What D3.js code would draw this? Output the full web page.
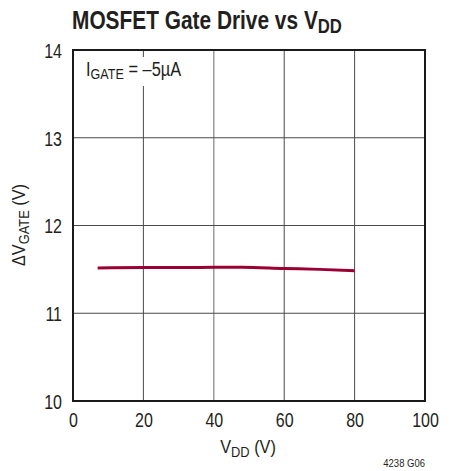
<!DOCTYPE html>
<html>
<head>
<meta charset="utf-8">
<script src="https://cdn.jsdelivr.net/npm/d3@7"></script>
<style>
  html, body { margin: 0; padding: 0; background: #fff; }
  svg text { font-family: "Liberation Sans", Arial, sans-serif; fill: #231f20; }
</style>
</head>
<body>
<svg id="chart" width="456" height="471"></svg>
<script>
// ---- data ----
const vdd = [7, 20, 30, 40, 48, 60, 70, 80];
const deltaVgate = [11.515, 11.52, 11.52, 11.523, 11.525, 11.51, 11.5, 11.485];
const xTicks = [0, 20, 40, 60, 80, 100];
const yTicks = [10, 11, 12, 13, 14];

(function () {
const svg = d3.select("#chart");
const pL = 73, pR = 425, pT = 50, pB = 401;
const x = d3.scaleLinear().domain([0, 100]).range([pL, pR]);
const y = d3.scaleLinear().domain([10, 14]).range([pB, pT]);
const TS = 0.8; // horizontal condensing for tick labels

// grid
const g = svg.append("g");
g.selectAll("line.vg").data(xTicks.slice(1, -1)).enter().append("line")
  .attr("x1", d => x(d)).attr("x2", d => x(d)).attr("y1", pT).attr("y2", pB)
  .attr("stroke", d => d === 40 ? "#8c8c8c" : "#4a4a4a").attr("stroke-width", d => d === 40 ? 1.3 : 1);
g.selectAll("line.hg").data(yTicks.slice(1, -1)).enter().append("line")
  .attr("x1", pL).attr("x2", pR).attr("y1", d => y(d)).attr("y2", d => y(d))
  .attr("stroke", "#4a4a4a").attr("stroke-width", 1);

// annotation box background (hides grid)
svg.append("rect").attr("x", 78).attr("y", 57).attr("width", 108).attr("height", 29).attr("fill", "#fff");
const ann = svg.append("text").attr("transform", "translate(86,76) scale(0.84,1)").attr("font-size", 19.5);
ann.append("tspan").text("I");
ann.append("tspan").attr("dy", 2.5).attr("font-size", 15).text("GATE");
ann.append("tspan").attr("dy", -2.5).text(" = \u20135\u00b5A");

// frame
svg.append("rect").attr("x", pL).attr("y", pT).attr("width", pR - pL).attr("height", pB - pT)
  .attr("fill", "none").attr("stroke", "#1a1a1a").attr("stroke-width", 2);

// axes (labels only)
const xAxis = d3.axisBottom(x).tickValues(xTicks).tickSize(0).tickFormat(d3.format("d"));
const xa = svg.append("g").attr("transform", `translate(0,${pB})`).call(xAxis);
xa.select(".domain").remove();
xa.selectAll("text").attr("font-size", 20).attr("fill", "#231f20").attr("font-family", null)
  .attr("y", 0).attr("dy", 0).attr("transform", `translate(0,25.5) scale(${TS},1)`);

const yAxis = d3.axisLeft(y).tickValues(yTicks).tickSize(0).tickFormat(d3.format("d"));
const ya = svg.append("g").attr("transform", `translate(${pL},0)`).call(yAxis);
ya.select(".domain").remove();
ya.selectAll("text").attr("font-size", 20).attr("fill", "#231f20").attr("font-family", null)
  .attr("x", 0).attr("dy", 0).attr("transform", `translate(-11,7.3) scale(${TS},1)`);

// data line
const line = d3.line().x((d, i) => x(vdd[i])).y(d => y(d)).curve(d3.curveMonotoneX);
svg.append("path").datum(deltaVgate).attr("d", line)
  .attr("fill", "none").attr("stroke", "#9b0033").attr("stroke-width", 3);

// title
const t = svg.append("text").attr("transform", "translate(72,29) scale(0.835,1)").attr("font-size", 25).attr("font-weight", "bold");
t.append("tspan").text("MOSFET Gate Drive vs V");
t.append("tspan").attr("dy", 4).attr("font-size", 20).text("DD");

// x title
const xt = svg.append("text").attr("transform", "translate(248,453) scale(0.92,1)").attr("font-size", 17.7).attr("text-anchor", "middle");
xt.append("tspan").text("V");
xt.append("tspan").attr("dy", 4).attr("font-size", 14).text("DD");
xt.append("tspan").attr("dy", -4).text(" (V)");

// y title
const yt = svg.append("text").attr("transform", "translate(25,225) rotate(-90) scale(0.92,1)").attr("font-size", 17.7).attr("text-anchor", "middle");
yt.append("tspan").text("\u0394V");
yt.append("tspan").attr("dy", 4).attr("font-size", 14).text("GATE");
yt.append("tspan").attr("dy", -4).text(" (V)");

// figure id
svg.append("text").attr("transform", "translate(425,467) scale(0.95,1)").attr("font-size", 10).attr("text-anchor", "end").text("4238 G06");
})();
</script>
</body>
</html>
